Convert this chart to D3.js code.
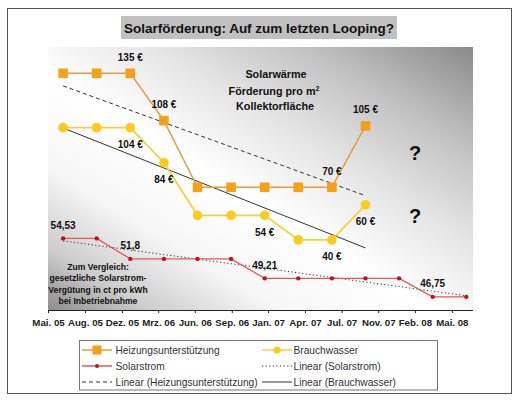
<!DOCTYPE html>
<html><head><meta charset="utf-8">
<script src="https://cdn.jsdelivr.net/npm/d3@7"></script>
<style>
body{margin:0;background:#fff}
text{font-family:"Liberation Sans",Arial,sans-serif}
</style>
</head><body>
<svg id="chart" width="518" height="400"></svg>
<script>
// values, one entry per quarter
const heizung = [135, 135, 135, 108, 70, 70, 70, 70, 70, 105];
const brauchwasser = [104, 104, 104, 84, 54, 54, 54, 40, 40, 60];
const solarstrom = [54.53, 54.53, 51.8, 51.8, 51.8, 51.8, 49.21, 49.21, 49.21, 49.21, 49.21, 46.75, 46.75];
const heizLabelIdx = [2, 3, 8, 9];
const brauchLabelIdx = [2, 3, 6, 8, 9];
const solarLabelIdx = [0, 2, 6, 11];
// trend lines: value at first and last point of each series
const heizTrend = [127.8, 65.2];
const brauchTrend = [103.8, 35.4];
const solarTrend = [54.2, 46.9];
const tickLabels = ["Mai. 05", "Aug. 05", "Dez. 05", "Mrz. 06", "Jun. 06", "Sep. 06",
                    "Jan. 07", "Apr. 07", "Jul. 07", "Nov. 07", "Feb. 08", "Mai. 08"];
const tickPos = [-0.45, 0.65, 1.75, 2.83, 3.92, 5.02, 6.1, 7.2, 8.29, 9.38, 10.47, 11.57];
const noteLines = ["Zum Vergleich:", "gesetzliche Solarstrom-", "Vergütung in ct pro kWh", "bei Inbetriebnahme"];

let svg = d3.select("#chart");
let plot = {left: 48, right: 473, top: 47, bottom: 310};

let x = d3.scaleLinear().domain([-0.45, 12.2]).range([plot.left, plot.right]);
let y = d3.scaleLinear().domain([0, 150]).range([plot.bottom, plot.top]);
let y2 = d3.scaleLinear().domain([45, 80]).range([plot.bottom, plot.top]);

const HEIZ_LINE = "#dca040", HEIZ_MARK = "#f5a01a";
const BRAUCH_LINE = "#f2d23c", BRAUCH_MARK = "#fccb1c";
const SOLAR_LINE = "#e05a5a", SOLAR_MARK = "#c4101c";

// outer frame
svg.append("rect").attr("x", 7.5).attr("y", 8.5).attr("width", 504).attr("height", 385)
    .attr("fill", "#fff").attr("stroke", "#555").attr("stroke-width", 1);

// title
svg.append("rect").attr("x", 121).attr("y", 16).attr("width", 276).attr("height", 23).attr("fill", "#c0c0c0");
svg.append("text").attr("x", 259).attr("y", 32.5).attr("text-anchor", "middle")
    .attr("font-size", 13.5).attr("font-weight", "bold").attr("fill", "#111")
    .text("Solarförderung: Auf zum letzten Looping?");

// plot background
let defs = svg.append("defs");
let grad = defs.append("linearGradient").attr("id", "bg")
    .attr("x1", 0).attr("y1", 1).attr("x2", 1).attr("y2", 0);
[[0, "#8c8c8c"], [0.12, "#cdcdcd"], [0.27, "#f6f6f6"], [0.45, "#ffffff"],
 [0.62, "#e6e6e6"], [0.8, "#c2c2c2"], [1, "#8a8a8a"]].forEach(s => {
    grad.append("stop").attr("offset", s[0]).attr("stop-color", s[1]);
});
svg.append("rect").attr("x", plot.left).attr("y", plot.top)
    .attr("width", plot.right - plot.left).attr("height", plot.bottom - plot.top)
    .attr("fill", "url(#bg)");

// x axis
let xAxis = svg.append("g").attr("transform", `translate(0, ${plot.bottom})`)
    .call(d3.axisBottom(x).tickValues(tickPos).tickSize(3).tickFormat((d, i) => tickLabels[i]));
xAxis.select(".domain").attr("stroke", "#222").attr("d", `M${plot.left},0.5H${plot.right}`);
xAxis.selectAll(".tick line").attr("stroke", "#222");
xAxis.selectAll(".tick text").attr("y", 9).attr("dy", "0.71em")
    .attr("font-size", 9.7).attr("font-weight", "bold").attr("fill", "#222")
    .attr("font-family", "'Liberation Sans', Arial, sans-serif");

let g = svg.append("g");

// trend lines
let trend = (vals, n, scale, dash) => {
    g.append("line")
        .attr("x1", x(0)).attr("y1", scale(vals[0]))
        .attr("x2", x(n - 1)).attr("y2", scale(vals[1]))
        .attr("stroke", "#333").attr("stroke-width", 1)
        .attr("stroke-dasharray", dash);
};
trend(heizTrend, heizung.length, y, "4,3");
trend(brauchTrend, brauchwasser.length, y, null);
trend(solarTrend, solarstrom.length, y2, "1.2,2.4");

// series lines
let lineFor = (scale) => d3.line().x((d, i) => x(i)).y(d => scale(d));
g.append("path").datum(solarstrom).attr("d", lineFor(y2))
    .attr("fill", "none").attr("stroke", SOLAR_LINE).attr("stroke-width", 1.3);
g.append("path").datum(brauchwasser).attr("d", lineFor(y))
    .attr("fill", "none").attr("stroke", BRAUCH_LINE).attr("stroke-width", 1.8);
g.append("path").datum(heizung).attr("d", lineFor(y))
    .attr("fill", "none").attr("stroke", HEIZ_LINE).attr("stroke-width", 1.5);

// markers
g.selectAll(".solar").data(solarstrom).enter().append("circle")
    .attr("cx", (d, i) => x(i)).attr("cy", d => y2(d)).attr("r", 2.2).attr("fill", SOLAR_MARK);
g.selectAll(".brauch").data(brauchwasser).enter().append("circle")
    .attr("cx", (d, i) => x(i)).attr("cy", d => y(d)).attr("r", 4.8).attr("fill", BRAUCH_MARK);
g.selectAll(".heiz").data(heizung).enter().append("rect")
    .attr("x", (d, i) => x(i) - 4.8).attr("y", d => y(d) - 4.8)
    .attr("width", 9.6).attr("height", 9.6).attr("fill", HEIZ_MARK);

// data labels
let label = (idx, vals, scale, dy, fmt) => {
    g.selectAll(null).data(idx).enter().append("text")
        .attr("x", i => x(i)).attr("y", i => scale(vals[i]) + dy)
        .attr("text-anchor", "middle").attr("font-size", 10).attr("font-weight", "bold")
        .attr("fill", "#111").text(i => fmt(vals[i]));
};
label(heizLabelIdx, heizung, y, -12.5, v => v + " €");
label(brauchLabelIdx, brauchwasser, y, 20.5, v => v + " €");
label(solarLabelIdx, solarstrom, y2, -9.5, v => String(v).replace(".", ","));

// annotation
let note = g.append("text").attr("text-anchor", "middle").attr("font-size", 10.8)
    .attr("font-weight", "bold").attr("fill", "#111");
note.append("tspan").attr("x", 276).attr("y", 78).text("Solarwärme");
let l2 = note.append("tspan").attr("x", 274).attr("y", 94.5).text("Förderung pro m");
l2.append("tspan").attr("font-size", 7).attr("dy", -4).text("2");
note.append("tspan").attr("x", 275).attr("y", 110).text("Kollektorfläche");

g.selectAll(".q").data([153, 216]).enter().append("text")
    .attr("x", 415).attr("y", d => d + 7).attr("text-anchor", "middle")
    .attr("font-size", 20).attr("font-weight", "bold").attr("fill", "#111").text("?");

g.append("text").attr("text-anchor", "middle").attr("font-size", 8.6)
    .attr("font-weight", "bold").attr("fill", "#111")
    .selectAll("tspan").data(noteLines).enter().append("tspan")
    .attr("x", 98).attr("y", (d, i) => 270 + i * 11.4).text(d => d);

// legend
svg.append("rect").attr("x", 79.5).attr("y", 340.5).attr("width", 358).attr("height", 49.5)
    .attr("fill", "#fff").attr("stroke", "#777");
const legendItems = [
    {name: "Heizungsunterstützung", col: 0, row: 0, color: HEIZ_LINE, mark: "square"},
    {name: "Brauchwasser", col: 1, row: 0, color: BRAUCH_LINE, mark: "circle"},
    {name: "Solarstrom", col: 0, row: 1, color: SOLAR_LINE, mark: "dot"},
    {name: "Linear (Solarstrom)", col: 1, row: 1, color: "#333", dash: "1.2,2.4"},
    {name: "Linear (Heizungsunterstützung)", col: 0, row: 2, color: "#333", dash: "4,3"},
    {name: "Linear (Brauchwasser)", col: 1, row: 2, color: "#333"}
];
let lg = svg.selectAll(".leg").data(legendItems).enter().append("g")
    .attr("transform", d => `translate(${d.col ? 262 : 82}, ${350 + d.row * 16})`);
lg.append("line").attr("x1", 0).attr("x2", 30)
    .attr("stroke", d => d.color).attr("stroke-width", d => d.mark ? 1.5 : 1)
    .attr("stroke-dasharray", d => d.dash || null);
lg.filter(d => d.mark === "square").append("rect")
    .attr("x", 10.5).attr("y", -4.5).attr("width", 9).attr("height", 9).attr("fill", HEIZ_MARK);
lg.filter(d => d.mark === "circle").append("circle")
    .attr("cx", 15).attr("r", 3.5).attr("fill", BRAUCH_MARK);
lg.filter(d => d.mark === "dot").append("circle")
    .attr("cx", 15).attr("r", 2).attr("fill", SOLAR_MARK);
lg.append("text").attr("x", d => d.col ? 31.5 : 33.5).attr("y", 3.7)
    .attr("font-size", 10.2).attr("fill", "#333").text(d => d.name);
</script>
</body></html>
